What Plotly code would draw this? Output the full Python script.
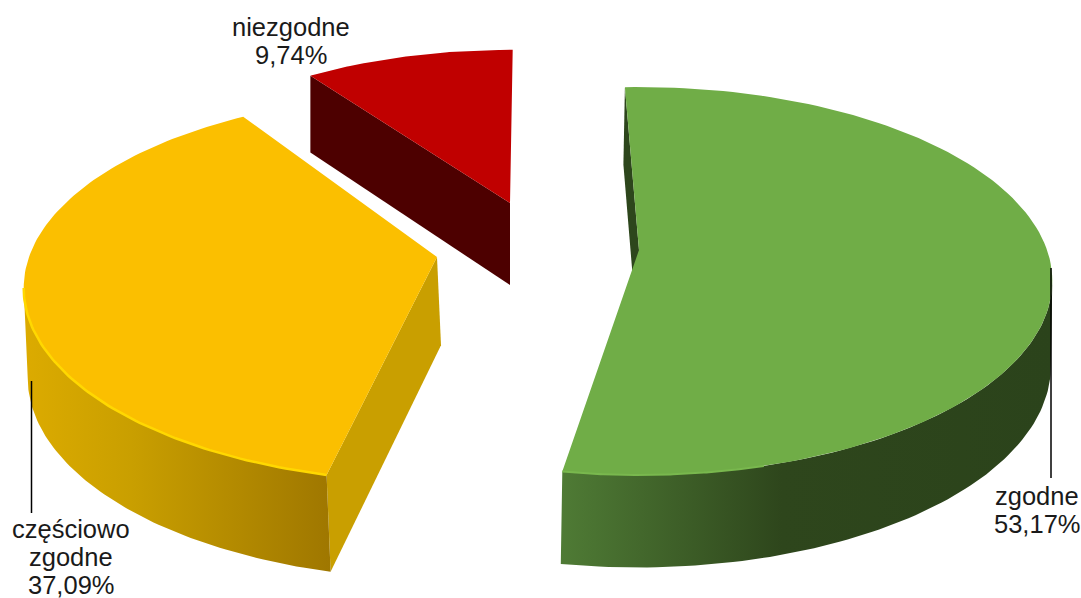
import numpy as np
import plotly.graph_objects as go

labels = [["zgodne"], ["częściowo", "zgodne"], ["niezgodne"]]
values = [53.17, 37.09, 9.74]
value_texts = ["53,17%", "37,09%", "9,74%"]

top_colors = ["#70ad47", "#fbbf00", "#c00000"]
cut_colors = ["#2d461c", "#c99f00", "#4d0000"]
wall_stops = [
    [[0, "#4f7b35"], [0.45, "#2e461c"], [1, "#2b431b"]],
    [[0, "#dcab00"], [0.35, "#c99f00"], [1, "#9f7700"]],
    [[0, "#4d0000"], [1, "#4d0000"]],
]
bevel_colors = ["#79b84e", "#ffd800", "#c00000"]

# slice placement in the picture (apex position, size, wall offset)
apex_x = [639, 437, 510]
apex_y = [250, 257, 203]
scale = [1.0, 1.0, 0.94]
start_deg = [-2.3, 193.2, 324.0]
sweep_gain = [1.0, 1.005, 1.04]
wall_dx = [-1.5, 4.0, 0.0]
wall_gain = [1.0, 1.05, 1.04]

A, B, K, H, P = 408.0, 189.0, 0.16, 84.0, 0.55
EXT = np.degrees(np.arccos(-K))


def rim(i, th):
    th = np.radians(th)
    s = 1 / (1 + K * np.cos(th))
    x = apex_x[i] + scale[i] * A * np.sin(th) * s
    y = apex_y[i] - scale[i] * B * np.cos(th) * s
    return x, y, wall_gain[i] * scale[i] * H * s**P


def poly(xs, ys, color=None, grad=None):
    kw = dict(x=np.round(xs, 1), y=np.round(ys, 1), mode="lines", fill="toself",
              line=dict(width=0), hoverinfo="skip", showlegend=False)
    if grad:
        kw["fillgradient"] = dict(type="horizontal", colorscale=grad)
        kw["fillcolor"] = "rgba(0,0,0,0)"
    else:
        kw["fillcolor"] = color
    return go.Scatter(**kw)


fig = go.Figure()
ranges = []
for i, v in enumerate(values):
    t0 = start_deg[i]
    ranges.append((t0, t0 + v * 3.6 * sweep_gain[i]))

# visible part of the outer wall for each slice
visible = [(EXT, ranges[0][1]), (ranges[1][0], 360 - EXT), None]
cut_angle = [ranges[0][0], ranges[1][0], ranges[2][0]]
bevel = [(165, ranges[0][1]), (ranges[1][0], 360 - EXT), None]
bevel_w = [2, 2.5, 0]

for i in range(3):
    t0, t1 = ranges[i]
    ax, ay = apex_x[i], apex_y[i]
    ah = wall_gain[i] * scale[i] * H
    # cut wall
    cx, cy, ch = rim(i, cut_angle[i])
    fig.add_trace(poly(
        [cx, cx + wall_dx[i], ax + wall_dx[i], ax],
        [cy, cy + ch, ay + ah, ay], cut_colors[i]))
    # outer wall
    if visible[i]:
        th = np.linspace(visible[i][0], visible[i][1], 80)
        x, y, h = rim(i, th)
        fig.add_trace(poly(
            np.r_[x, (x + wall_dx[i])[::-1]],
            np.r_[y, (y + h)[::-1]], grad=wall_stops[i]))
    # top face
    th = np.linspace(t0, t1, 120)
    x, y, _ = rim(i, th)
    fig.add_trace(poly(np.r_[ax, x], np.r_[ay, y], top_colors[i]))
    # bright edge
    if bevel[i]:
        th = np.linspace(bevel[i][0], bevel[i][1], 80)
        x, y, _ = rim(i, th)
        fig.add_trace(go.Scatter(x=np.round(x, 1), y=np.round(y, 1), mode="lines",
                                 line=dict(color=bevel_colors[i], width=bevel_w[i]),
                                 hoverinfo="skip", showlegend=False))

# labels
label_x = [1037, 71, 291]
label_y = [496, 529, 27]
LINE = 28
annotations = []
for i in range(3):
    for j, txt in enumerate(labels[i] + [value_texts[i]]):
        annotations.append(dict(
            x=label_x[i], y=label_y[i] + j * LINE, text=txt, showarrow=False,
            xref="x", yref="y", xanchor="center", yanchor="middle",
            font=dict(family="Liberation Sans", size=25.5, color="#1a1a1a")))

shapes = [
    dict(type="line", x0=1051, x1=1051, y0=268, y1=478, xref="x", yref="y",
         line=dict(color="#000000", width=1.5)),
    dict(type="line", x0=31.5, x1=31.5, y0=381, y1=513, xref="x", yref="y",
         line=dict(color="#000000", width=1.5)),
]

fig.update_layout(
    width=1081, height=598, margin=dict(l=0, r=0, t=0, b=0),
    paper_bgcolor="white", plot_bgcolor="white", showlegend=False,
    xaxis=dict(range=[0, 1081], visible=False, fixedrange=True),
    yaxis=dict(range=[598, 0], visible=False, fixedrange=True),
    annotations=annotations, shapes=shapes,
)
fig.write_html("out.html", config={"displayModeBar": False},
               post_script="document.body.style.margin='0';document.body.style.overflow='hidden';")
